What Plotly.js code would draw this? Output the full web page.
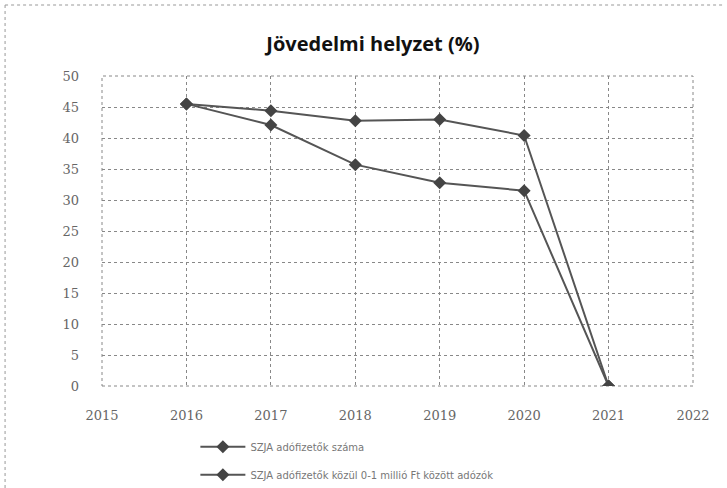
<!DOCTYPE html>
<html>
<head>
<meta charset="utf-8">
<script src="https://cdn.plot.ly/plotly-3.0.1.min.js"></script>
<style>html,body{margin:0;padding:0;background:#fff;}#chart{width:727px;height:488px;}</style>
</head>
<body>
<div id="chart"></div>
<script>
var years = [2016, 2017, 2018, 2019, 2020, 2021];
var seriesA = [45.5, 44.4, 42.8, 43.0, 40.4, 0];
var seriesB = [45.5, 42.1, 35.7, 32.8, 31.5, 0];
var nameA = "SZJA adófizetők száma";
var nameB = "SZJA adófizetők közül 0-1 millió Ft között adózók";
var xTicks = [2015, 2016, 2017, 2018, 2019, 2020, 2021, 2022];
var yTicks = [0, 5, 10, 15, 20, 25, 30, 35, 40, 45, 50];

var lineColor = '#555555';
var traces = [
  {x: years, y: seriesA, name: nameA, type: 'scatter', mode: 'lines+markers',
   legendgroup: 'a',
   line: {color: lineColor, width: 2}, marker: {symbol: 'diamond', size: 10, color: '#444'}},
  {x: years, y: seriesB, name: nameB, type: 'scatter', mode: 'lines+markers',
   legendgroup: 'b',
   line: {color: lineColor, width: 2}, marker: {symbol: 'diamond', size: 10, color: '#444'}}
];

var layout = {
  width: 727, height: 488,
  margin: {l: 102, r: 34, t: 76, b: 102, autoexpand: false},
  paper_bgcolor: '#fff', plot_bgcolor: '#fff',
  font: {family: 'DejaVu Serif, serif', color: '#666'},
  title: {text: '<b>Jövedelmi helyzet (%)</b>', x: 0.513, xanchor: 'center', y: 0.91, yanchor: 'middle',
          font: {family: 'Open Sans, sans-serif', size: 20, color: '#111'}},
  xaxis: {range: [2015, 2022], tickvals: xTicks, ticktext: xTicks.map(String), automargin: false,
          showgrid: true, gridcolor: '#888', griddash: 'dot', gridwidth: 1,
          zeroline: false, showline: false, ticks: '', ticklabelstandoff: 20,
          tickfont: {size: 13, color: '#666'}},
  yaxis: {range: [0, 50], tickvals: yTicks, ticktext: yTicks.map(String), automargin: false,
          showgrid: true, gridcolor: '#888', griddash: 'dot', gridwidth: 1,
          zeroline: false, showline: false, ticks: '', ticklabelstandoff: 22,
          tickfont: {size: 13, color: '#666'}},
  showlegend: true,
  legend: {x: 0.158, xanchor: 'left', y: -0.149, yanchor: 'top', orientation: 'v',
           traceorder: 'grouped', tracegroupgap: 9, itemwidth: 45,
           font: {family: 'DejaVu Sans, sans-serif', size: 10, color: '#777'}, bgcolor: 'rgba(0,0,0,0)'},
  shapes: [
    {type: 'rect', xref: 'paper', yref: 'paper', x0: 0, x1: 1, y0: 0, y1: 1, layer: 'below',
     line: {color: '#888', width: 1, dash: 'dot'}},
    {type: 'line', xref: 'paper', yref: 'paper', x0: -0.164, x1: -0.164, y0: 1.229, y1: -0.33,
     line: {color: '#999', width: 1, dash: 'dot'}},
    {type: 'line', xref: 'paper', yref: 'paper', x0: -0.164, x1: 1.05, y0: 1.229, y1: 1.229,
     line: {color: '#999', width: 1, dash: 'dot'}}
  ]
};

Plotly.newPlot('chart', traces, layout, {displayModeBar: false, staticPlot: true});
</script>
</body>
</html>
